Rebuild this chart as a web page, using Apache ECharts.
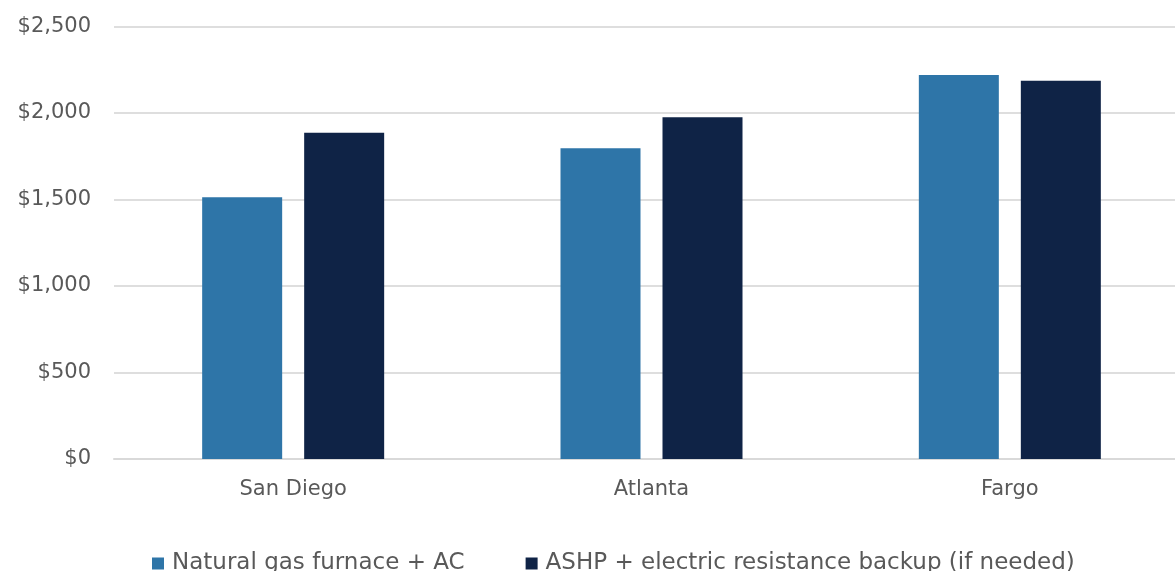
<!DOCTYPE html>
<html><head><meta charset="utf-8">
<script src="https://cdn.jsdelivr.net/npm/echarts@6/dist/echarts.min.js"></script>
<style>html,body{margin:0;padding:0;background:#fff}#c{width:1175px;height:571px}</style>
</head><body><div id="c"></div>
<script>
const categories = ['San Diego', 'Atlanta', 'Fargo'];
const gasFurnace = [1513, 1796, 2219];
const ashp = [1886, 1975, 2186];
const seriesNames = ['Natural gas furnace + AC', 'ASHP + electric resistance backup (if needed)'];
const yTicks = [0, 500, 1000, 1500, 2000, 2500];

const font = 'DejaVu Sans';
const chart = echarts.init(document.getElementById('c'));
chart.setOption({
  animation: false,
  backgroundColor: '#fff',
  textStyle: { fontFamily: font },
  grid: { left: 114, right: -14, top: 26.5, bottom: 112, containLabel: false, outerBoundsMode: 'none' },
  legend: {
    data: seriesNames,
    top: 552, left: 152, padding: 0,
    itemWidth: 12, itemHeight: 12, itemGap: 61,
    icon: 'rect',
    textStyle: { fontFamily: font, fontSize: 23, color: '#595959', padding: [0,0,0,3] }
  },
  xAxis: {
    type: 'category', data: categories,
    axisTick: { show: false },
    axisLine: { lineStyle: { color: '#d9d9d9', width: 2 } },
    axisLabel: { fontFamily: font, fontSize: 21, color: '#595959', margin: 20 }
  },
  yAxis: {
    type: 'value', min: yTicks[0], max: yTicks[yTicks.length-1], interval: 500,
    axisLine: { show: false }, axisTick: { show: false },
    splitLine: { lineStyle: { color: '#dedede', width: 2 } },
    axisLabel: { fontFamily: font, fontSize: 21, color: '#595959', margin: 23,
      formatter: v => '$' + v.toLocaleString('en-US') }
  },
  series: [
    { name: seriesNames[0], type: 'bar', data: gasFurnace, barWidth: 80, barGap: '27.5%',
      itemStyle: { color: '#2e75a8' } },
    { name: seriesNames[1], type: 'bar', data: ashp, barWidth: 80,
      itemStyle: { color: '#0f2346' } }
  ]
});
</script></body></html>
